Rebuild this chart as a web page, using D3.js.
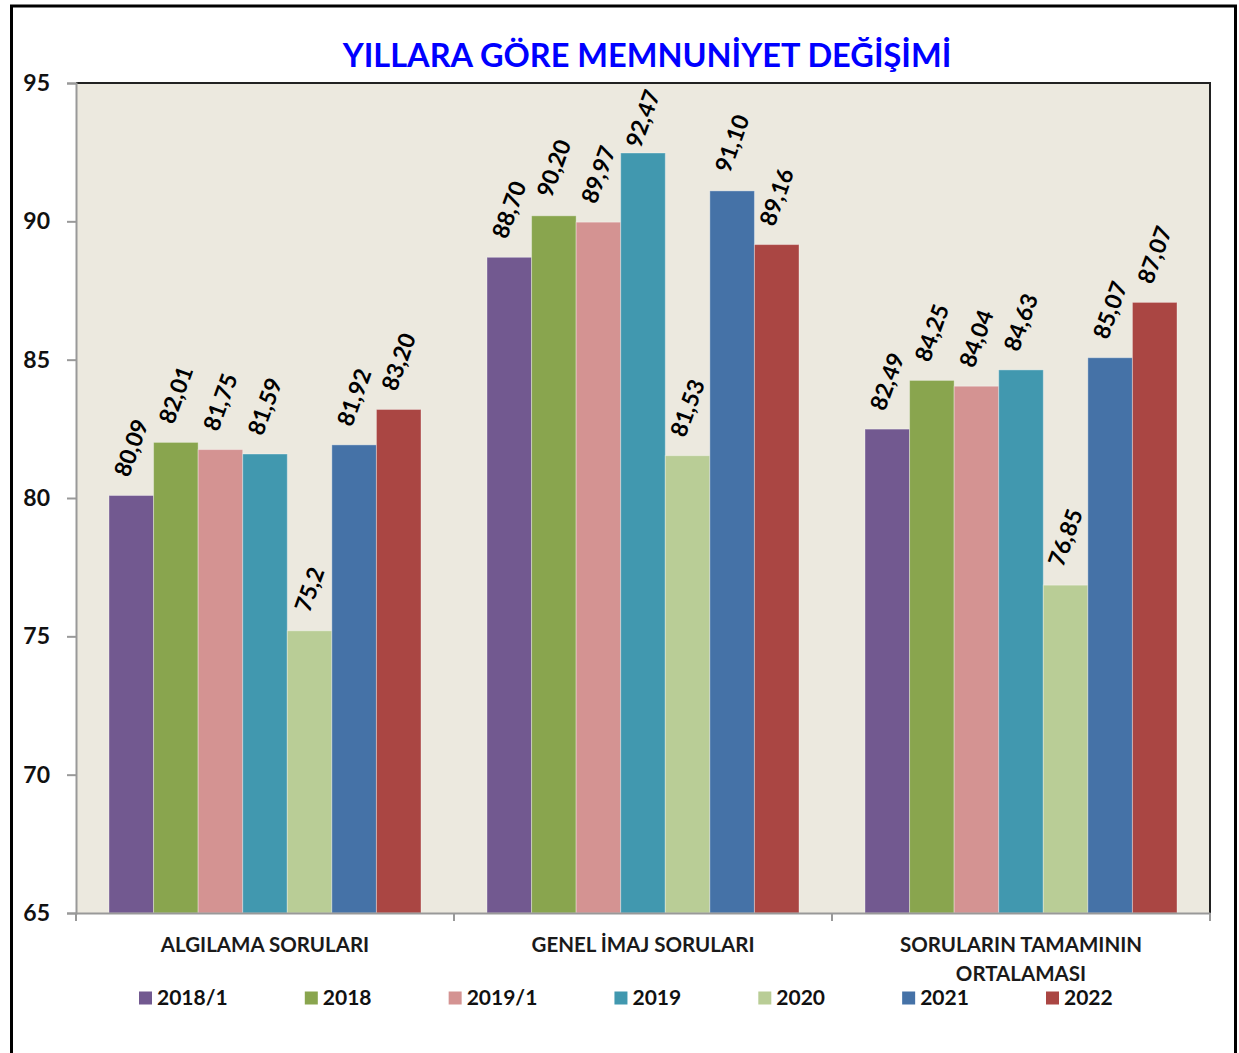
<!DOCTYPE html>
<html lang="tr">
<head>
<meta charset="UTF-8">
<title>Yıllara Göre Memnuniyet Değişimi</title>
<script src="https://cdn.jsdelivr.net/npm/d3@7"></script>
<style>
    body { margin: 0; background: #fff; }
    svg text { font-family: Lato, "Open Sans", sans-serif; font-weight: bold; }
</style>
</head>
<body>
<svg id="chart" width="1239" height="1053"></svg>
<script>
// categories and series
const categories = ["ALGILAMA SORULARI", "GENEL İMAJ SORULARI", "SORULARIN TAMAMININ ORTALAMASI"];
const series = ["2018/1", "2018", "2019/1", "2019", "2020", "2021", "2022"];
const colors = ["#725990", "#89A54E", "#D49392", "#4198AF", "#B9CD96", "#4572A7", "#AA4643"];

// values per category, one per series
const algilama = [80.09, 82.01, 81.75, 81.59, 75.2, 81.92, 83.20];
const genelImaj = [88.70, 90.20, 89.97, 92.47, 81.53, 91.10, 89.16];
const tamami = [82.49, 84.25, 84.04, 84.63, 76.85, 85.07, 87.07];

// labels as printed on the chart
const algilamaLabels = ["80,09", "82,01", "81,75", "81,59", "75,2", "81,92", "83,20"];
const genelImajLabels = ["88,70", "90,20", "89,97", "92,47", "81,53", "91,10", "89,16"];
const tamamiLabels = ["82,49", "84,25", "84,04", "84,63", "76,85", "85,07", "87,07"];

const yTicks = [65, 70, 75, 80, 85, 90, 95];

const values = [algilama, genelImaj, tamami];
const labels = [algilamaLabels, genelImajLabels, tamamiLabels];

const svg = d3.select("#chart");

// outer frame
svg.append("rect")
    .attr("x", 11.5).attr("y", 6)
    .attr("width", 1224).attr("height", 1060)
    .attr("fill", "none").attr("stroke", "#000").attr("stroke-width", 3);

const plot = {left: 76, right: 1210, top: 83, bottom: 913};

const x0 = d3.scaleBand()
    .domain(categories)
    .range([plot.left, plot.right]);

const x1 = d3.scaleBand()
    .domain(series)
    .range([33, x0.bandwidth() - 33]);

const y = d3.scaleLinear()
    .domain([65, 95])
    .range([plot.bottom, plot.top]);

// plot background
svg.append("rect")
    .attr("x", plot.left).attr("y", plot.top)
    .attr("width", plot.right - plot.left).attr("height", plot.bottom - plot.top)
    .attr("fill", "#ECE9DF");

// bars
const groups = svg.append("g").selectAll("g")
    .data(categories)
    .join("g")
    .attr("transform", d => `translate(${x0(d)},0)`);

groups.selectAll("rect")
    .data((d, i) => series.map((s, j) => ({s, v: values[i][j], label: labels[i][j], c: colors[j]})))
    .join("rect")
    .attr("x", d => x1(d.s))
    .attr("y", d => y(d.v))
    .attr("width", x1.bandwidth())
    .attr("height", d => y(65) - y(d.v))
    .attr("fill", d => d.c)
    .attr("stroke", "rgba(255,255,255,0.35)")
    .attr("stroke-width", 1);

// value labels, rotated -70deg; the rotated box sits above the bar,
// kept inside the plot area like Excel does
const angle = 70 * Math.PI / 180;
const labelSize = 23;
groups.selectAll("text")
    .data((d, i) => series.map((s, j) => ({s, v: values[i][j], label: labels[i][j]})))
    .join("text")
    .attr("text-anchor", "middle")
    .attr("dy", "0.35em")
    .attr("font-size", labelSize)
    .attr("fill", "#000")
    .text(d => d.label)
    .attr("transform", function(d) {
        const L = this.getComputedTextLength();
        const h = labelSize * 0.75;
        const H = L * Math.sin(angle) + h * Math.cos(angle);
        let top = y(d.v) - 17 - H;
        if (top < plot.top + 5) top = plot.top + 5;
        const cx = x1(d.s) + x1.bandwidth() / 2;
        return `translate(${cx},${top + H / 2}) rotate(-70)`;
    });

// plot border top/right dark
svg.append("path")
    .attr("d", `M${plot.left},${plot.top}H${plot.right}V${plot.bottom}`)
    .attr("fill", "none").attr("stroke", "#222").attr("stroke-width", 2);

// y axis
const yAxis = svg.append("g")
    .attr("transform", `translate(${plot.left},0)`)
    .call(d3.axisLeft(y).tickValues(yTicks).tickSize(9).tickPadding(17));
yAxis.select(".domain").attr("stroke", "#999").attr("stroke-width", 2);
yAxis.selectAll(".tick line").attr("stroke", "#999").attr("stroke-width", 2);
yAxis.selectAll(".tick text")
    .attr("font-size", 23)
    .attr("fill", "#111")
    .style("font-family", "Lato, sans-serif");

// x axis
const xAxis = svg.append("g")
    .attr("transform", `translate(0,${plot.bottom})`)
    .call(d3.axisBottom(x0).tickSize(0).tickFormat(""));
xAxis.select(".domain").attr("stroke", "#999").attr("stroke-width", 2);
xAxis.selectAll(".xtick")
    .data([plot.left, ...categories.map(c => x0(c) + x0.bandwidth())])
    .join("line")
    .attr("class", "xtick")
    .attr("x1", d => d).attr("x2", d => d)
    .attr("y1", 0).attr("y2", 8)
    .attr("stroke", "#999").attr("stroke-width", 2);

// category labels (wrapped as on the reference)
const catLines = [["ALGILAMA SORULARI"], ["GENEL İMAJ SORULARI"], ["SORULARIN TAMAMININ", "ORTALAMASI"]];
svg.append("g").selectAll("text")
    .data(categories)
    .join("text")
    .attr("x", d => x0(d) + x0.bandwidth() / 2)
    .attr("y", 952)
    .attr("text-anchor", "middle")
    .attr("font-size", 20.5)
    .attr("fill", "#1a1a1a")
    .each(function(d, i) {
        d3.select(this).selectAll("tspan")
            .data(catLines[i])
            .join("tspan")
            .attr("x", x0(d) + x0.bandwidth() / 2)
            .attr("dy", (t, k) => k === 0 ? 0 : 29)
            .text(t => t);
    });

// title
svg.append("text")
    .attr("x", 647).attr("y", 67)
    .attr("text-anchor", "middle")
    .attr("font-size", 32.5)
    .attr("fill", "#0000FF")
    .text("YILLARA GÖRE MEMNUNİYET DEĞİŞİMİ");

// legend: items laid out by their text widths, spread from 139 to 1046
const legend = svg.append("g");
const items = legend.selectAll("g")
    .data(series)
    .join("g");

items.append("rect")
    .attr("x", 0).attr("y", -6.5)
    .attr("width", 13).attr("height", 13)
    .attr("fill", (d, i) => colors[i]);

items.append("text")
    .attr("x", 18).attr("dy", "0.35em")
    .attr("font-size", 21)
    .attr("fill", "#111")
    .text(d => d);

const widths = items.select("text").nodes().map(n => 18 + n.getComputedTextLength());
const legendStart = 139, legendLast = 1046;
const gap = (legendLast - legendStart - d3.sum(widths.slice(0, -1))) / (series.length - 1);
let lx = legendStart;
items.attr("transform", (d, i) => {
    const t = `translate(${lx},998)`;
    lx += widths[i] + gap;
    return t;
});
</script>
</body>
</html>
